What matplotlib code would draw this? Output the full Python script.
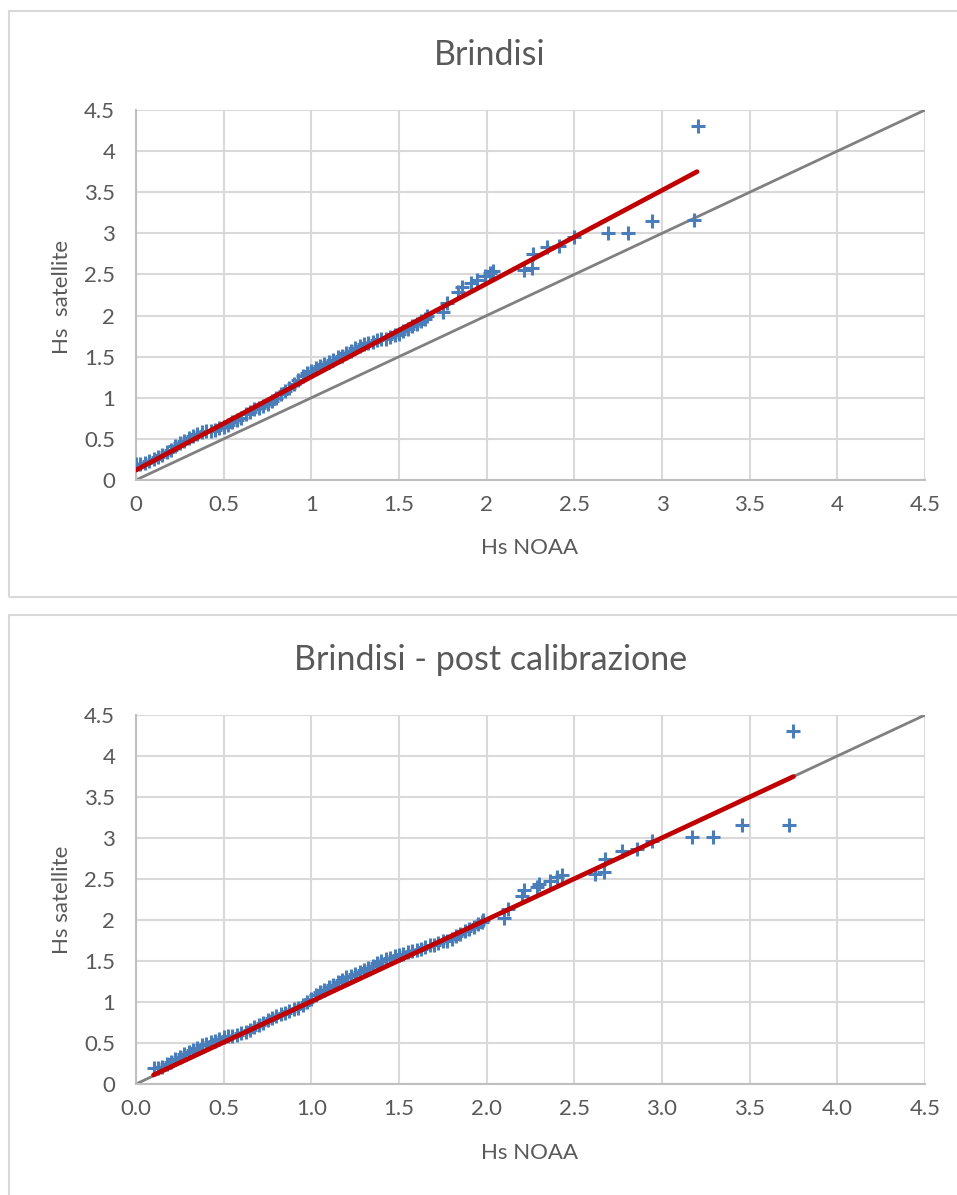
import matplotlib
matplotlib.use("Agg")
from matplotlib import pyplot as plt
from matplotlib.patches import Rectangle

plt.rcParams['font.family'] = ['Lato', 'DejaVu Sans']

# --- top chart: before calibration ---
noaa_raw = [0.000, 0.025, 0.050, 0.075, 0.100, 0.125, 0.150, 0.175, 0.200, 0.225,
            0.250, 0.275, 0.300, 0.325, 0.350, 0.375, 0.400, 0.425, 0.450, 0.475,
            0.500, 0.525, 0.550, 0.575, 0.600, 0.625, 0.650, 0.675, 0.700, 0.725,
            0.750, 0.775, 0.800, 0.825, 0.850, 0.875, 0.900, 0.925, 0.950, 0.975,
            1.000, 1.025, 1.050, 1.075, 1.100, 1.125, 1.150, 1.175, 1.200, 1.225,
            1.250, 1.275, 1.300, 1.325, 1.350, 1.375, 1.400, 1.425, 1.450, 1.475,
            1.500, 1.525, 1.550, 1.575, 1.600, 1.625, 1.650,
            1.658, 1.750, 1.772, 1.838, 1.858, 1.909, 1.943, 1.990, 2.020, 2.038,
            2.213, 2.257, 2.267, 2.343, 2.415, 2.500, 2.694, 2.805, 2.945, 3.180, 3.204]
sat_raw = [0.20, 0.20, 0.21, 0.23, 0.25, 0.28, 0.31, 0.34, 0.37, 0.41,
           0.45, 0.48, 0.51, 0.54, 0.56, 0.58, 0.59, 0.60, 0.61, 0.63,
           0.65, 0.67, 0.70, 0.73, 0.76, 0.80, 0.83, 0.86, 0.88, 0.90,
           0.93, 0.96, 1.00, 1.04, 1.08, 1.12, 1.17, 1.22, 1.26, 1.30,
           1.33, 1.36, 1.39, 1.41, 1.44, 1.46, 1.49, 1.51, 1.54, 1.57,
           1.60, 1.63, 1.65, 1.67, 1.68, 1.70, 1.71, 1.72, 1.74, 1.76,
           1.78, 1.81, 1.84, 1.87, 1.90, 1.93, 1.96,
           1.99, 2.04, 2.15, 2.29, 2.35, 2.40, 2.43, 2.48, 2.52, 2.54,
           2.555, 2.575, 2.745, 2.83, 2.85, 2.96, 3.01, 3.01, 3.155, 3.16, 4.31]
trend_raw_x = [0.0, 3.2]
trend_raw_y = [0.12, 3.75]

# --- bottom chart: after calibration ---
noaa_cal = [0.100, 0.125, 0.150, 0.175, 0.200, 0.225, 0.250, 0.275, 0.300, 0.325,
            0.350, 0.375, 0.400, 0.425, 0.450, 0.475, 0.500, 0.525, 0.550, 0.575,
            0.600, 0.625, 0.650, 0.675, 0.700, 0.725, 0.750, 0.775, 0.800, 0.825,
            0.850, 0.875, 0.900, 0.925, 0.950, 0.975, 1.000, 1.025, 1.050, 1.075,
            1.100, 1.125, 1.150, 1.175, 1.200, 1.225, 1.250, 1.275, 1.300, 1.325,
            1.350, 1.375, 1.400, 1.425, 1.450, 1.475, 1.500, 1.525, 1.550, 1.575,
            1.600, 1.625, 1.650, 1.675, 1.700, 1.725, 1.750, 1.775, 1.800, 1.825,
            1.850, 1.875, 1.900, 1.925, 1.950, 1.975,
            1.980, 2.100, 2.124, 2.200, 2.213, 2.286, 2.300, 2.360, 2.400, 2.428,
            2.618, 2.670, 2.675, 2.770, 2.856, 2.945, 3.173, 3.293, 3.455, 3.727, 3.750]
sat_cal = [0.19, 0.19, 0.21, 0.24, 0.27, 0.30, 0.33, 0.36, 0.39, 0.42,
           0.44, 0.47, 0.49, 0.51, 0.53, 0.55, 0.57, 0.58, 0.59, 0.60,
           0.62, 0.64, 0.66, 0.69, 0.72, 0.75, 0.78, 0.81, 0.83, 0.85,
           0.87, 0.89, 0.91, 0.93, 0.96, 1.00, 1.04, 1.09, 1.12, 1.15,
           1.18, 1.21, 1.24, 1.27, 1.30, 1.32, 1.34, 1.37, 1.39, 1.41,
           1.44, 1.47, 1.50, 1.52, 1.54, 1.56, 1.57, 1.59, 1.61, 1.62,
           1.63, 1.65, 1.67, 1.69, 1.70, 1.72, 1.74, 1.75, 1.77, 1.80,
           1.83, 1.86, 1.89, 1.92, 1.95, 1.98,
           2.00, 2.03, 2.14, 2.29, 2.365, 2.405, 2.445, 2.475, 2.525, 2.545,
           2.565, 2.585, 2.75, 2.84, 2.86, 2.965, 3.015, 3.015, 3.16, 3.16, 4.31]
trend_cal_x = [0.10, 3.75]
trend_cal_y = [0.11, 3.75]

bisector = [0, 4.5]
ticks = [0, 0.5, 1, 1.5, 2, 2.5, 3, 3.5, 4, 4.5]
ytick_labels = ["0", "0.5", "1", "1.5", "2", "2.5", "3", "3.5", "4", "4.5"]
xtick_labels_cal = ["0.0", "0.5", "1.0", "1.5", "2.0", "2.5", "3.0", "3.5", "4.0", "4.5"]

text_col = "#595959"
W, H = 957, 1195


def draw_panel(ax, x, y, tx, ty, xlabels):
    ax.plot(bisector, bisector, color="#808080", lw=2, zorder=2)
    ax.scatter(x, y, marker="+", s=110, color="#4A7EBB", linewidths=2.2, zorder=3)
    ax.plot(tx, ty, color="#C00000", lw=3.4, solid_capstyle="round", zorder=4)
    ax.set_xlim(0, 4.5)
    ax.set_ylim(0, 4.5)
    ax.set_xticks(ticks)
    ax.set_yticks(ticks)
    ax.set_xticklabels(xlabels)
    ax.set_yticklabels(ytick_labels)
    ax.tick_params(length=0, labelsize=16, labelcolor=text_col)
    ax.tick_params(axis="x", pad=11)
    ax.tick_params(axis="y", pad=15)
    ax.grid(True, color="#D9D9D9", lw=1.5)
    ax.set_axisbelow(True)
    for s in ["top", "right"]:
        ax.spines[s].set_visible(False)
    for s in ["left", "bottom"]:
        ax.spines[s].set_color("#BFBFBF")
        ax.spines[s].set_linewidth(1.5)


def px_text(x, y, s, **kw):
    fig.text(x / W, 1 - y / H, s, color=text_col, ha="center", va="center", **kw)


fig = plt.figure(figsize=(W / 100, H / 100), dpi=100)

# chart area borders
fig.patches.append(Rectangle((9 / W, 1 - 597 / H), 960 / W, 586 / H, transform=fig.transFigure,
                             fill=False, edgecolor="#D9D9D9", lw=1.5))
fig.patches.append(Rectangle((9 / W, 1 - 1205 / H), 960 / W, 590 / H, transform=fig.transFigure,
                             fill=False, edgecolor="#D9D9D9", lw=1.5))

ax1 = fig.add_axes([136 / W, 1 - 480 / H, 789 / W, 370 / H])
draw_panel(ax1, noaa_raw, sat_raw, trend_raw_x, trend_raw_y, ytick_labels)
px_text(490, 55, "Brindisi", fontsize=24.5)
px_text(530, 548, "Hs NOAA", fontsize=16)
px_text(62, 297, "Hs  satellite", fontsize=16, rotation=90)

ax2 = fig.add_axes([136 / W, 1 - 1084 / H, 789 / W, 369 / H])
draw_panel(ax2, noaa_cal, sat_cal, trend_cal_x, trend_cal_y, xtick_labels_cal)
px_text(491, 660, "Brindisi - post calibrazione", fontsize=24.5)
px_text(530, 1153, "Hs NOAA", fontsize=16)
px_text(62, 900, "Hs satellite", fontsize=16, rotation=90)

fig.savefig("out.png", dpi=100)
